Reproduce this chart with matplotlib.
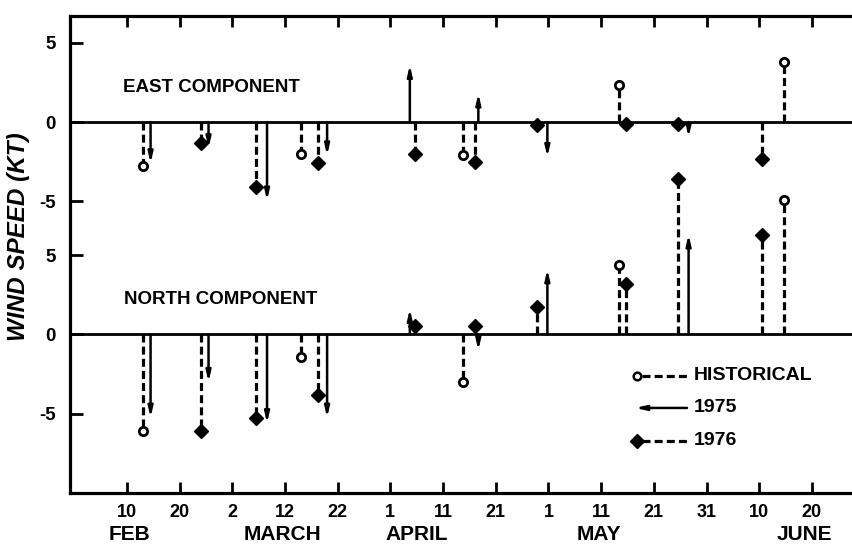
import matplotlib.pyplot as plt
from matplotlib.transforms import blended_transform_factory

plt.rcParams['font.family'] = ['Liberation Sans', 'DejaVu Sans']
plt.rcParams['font.weight'] = 'bold'

# x in days from Jan 1 (Feb 10 = day 41)
tick_days = [41, 51, 61, 71, 81, 91, 101, 111, 121, 131, 141, 151, 161, 171]
tick_labels = ['10', '20', '2', '12', '22', '1', '11', '21', '1', '11', '21', '31', '10', '20']
months = ['FEB', 'MARCH', 'APRIL', 'MAY', 'JUNE']
month_days = [41.5, 70.5, 96, 130.5, 169.5]

# historical (dashed, open circle)
hist_days = [44.0, 74.1, 104.8, 134.3, 165.8]
hist_east = [-2.8, -2.0, -2.1, 2.35, 3.8]
hist_north = [-6.1, -1.4, -3.0, 4.35, 8.5]

# 1975 (solid arrow)
y75_days = [45.5, 56.5, 67.6, 79.0, 94.7, 107.7, 120.8, 147.6]
y75_east = [-2.6, -1.65, -4.95, -2.1, 3.6, 1.8, -2.2, -0.95]
y75_north = [-5.25, -3.0, -5.6, -5.25, 1.6, -1.0, 4.1, 6.3]

# 1976 (dashed, filled diamond)
y76_days = [55.0, 65.5, 77.2, 95.6, 107.0, 118.9, 135.7, 145.5, 161.6]
y76_east = [-1.3, -4.1, -2.6, -2.0, -2.5, -0.2, -0.15, -0.1, -2.35]
y76_north = [-6.1, -5.25, -3.8, 0.5, 0.55, 1.7, 3.2, 9.8, 6.3]

EAST0 = 13.4   # east panel baseline, north panel baseline is 0
NORTH0 = 0.0

fig = plt.figure(figsize=(8.53, 5.47), dpi=100)
ax = fig.add_axes([0.082, 0.099, 0.918, 0.872])
ax.set_xlim(30.2, 178.8)
ax.set_ylim(-10.0, 20.1)

dash_kw = dict(color='black', lw=2.3, linestyle=(0, (2.5, 1.3)), solid_capstyle='butt')
arrow_kw = dict(arrowstyle='-|>,head_length=0.6,head_width=0.14',
                lw=1.8, color='black', shrinkA=0, shrinkB=0)

for base, h, a, b in [(EAST0, hist_east, y75_east, y76_east),
                      (NORTH0, hist_north, y75_north, y76_north)]:
    ax.axhline(base, color='black', lw=2.0, zorder=1)
    for d, v in zip(hist_days, h):
        ax.plot([d, d], [base, base + v], **dash_kw, zorder=2)
        ax.plot(d, base + v, 'o', ms=6, mfc='white', mec='black', mew=2.0, zorder=3)
    for d, v in zip(y76_days, b):
        ax.plot([d, d], [base, base + v], **dash_kw, zorder=2)
        ax.plot(d, base + v, 'D', ms=7.5, color='black', zorder=3)
    for d, v in zip(y75_days, a):
        ax.annotate('', xy=(d, base + v), xytext=(d, base), arrowprops=arrow_kw)

ax.text(40.2, EAST0 + 2.2, 'EAST COMPONENT', fontsize=13.5, fontweight='bold', va='center')
ax.text(40.5, NORTH0 + 2.2, 'NORTH COMPONENT', fontsize=13.5, fontweight='bold', va='center')

# axes frame
for s in ['left', 'bottom', 'top']:
    ax.spines[s].set_linewidth(2.3)
ax.spines['right'].set_visible(False)

ax.set_yticks([NORTH0 - 5, NORTH0, NORTH0 + 5, EAST0 - 5, EAST0, EAST0 + 5])
ax.set_yticklabels(['-5', '0', '5', '-5', '0', '5'], fontsize=13.5, fontweight='bold')
ax.tick_params(axis='y', direction='in', length=9, width=2, pad=10)

ax.set_xticks(tick_days)
ax.set_xticklabels(tick_labels, fontsize=13, fontweight='bold')
ax.tick_params(axis='x', direction='in', length=8, width=2, pad=8, top=True)

tr = blended_transform_factory(ax.transData, ax.transAxes)
for m, d in zip(months, month_days):
    ax.text(d, -0.088, m, transform=tr, ha='center', va='center', fontsize=15, fontweight='bold')

fig.text(0.022, 0.568, 'WIND SPEED (KT)', rotation=90, ha='center', va='center',
         fontsize=17.5, fontweight='bold', style='italic')

# legend drawn by hand
lx0, lx1, tx = 0.724, 0.788, 0.797
rows = [0.245, 0.178, 0.109]
ax.plot([lx0 + 0.006, lx1], [rows[0]] * 2, transform=ax.transAxes, **dash_kw)
ax.plot(lx0, rows[0], 'o', ms=5.5, mfc='white', mec='black', mew=1.8, transform=ax.transAxes)
ax.annotate('', xy=(lx0 - 0.002, rows[1]), xytext=(lx1, rows[1]), xycoords='axes fraction',
            arrowprops=arrow_kw)
ax.plot([lx0 + 0.006, lx1], [rows[2]] * 2, transform=ax.transAxes, **dash_kw)
ax.plot(lx0, rows[2], 'D', ms=7.5, color='black', transform=ax.transAxes)
for y, t in zip(rows, ['HISTORICAL', '1975', '1976']):
    ax.text(tx, y, t, transform=ax.transAxes, va='center', fontsize=14, fontweight='bold')

fig.savefig('out.png', dpi=100)
